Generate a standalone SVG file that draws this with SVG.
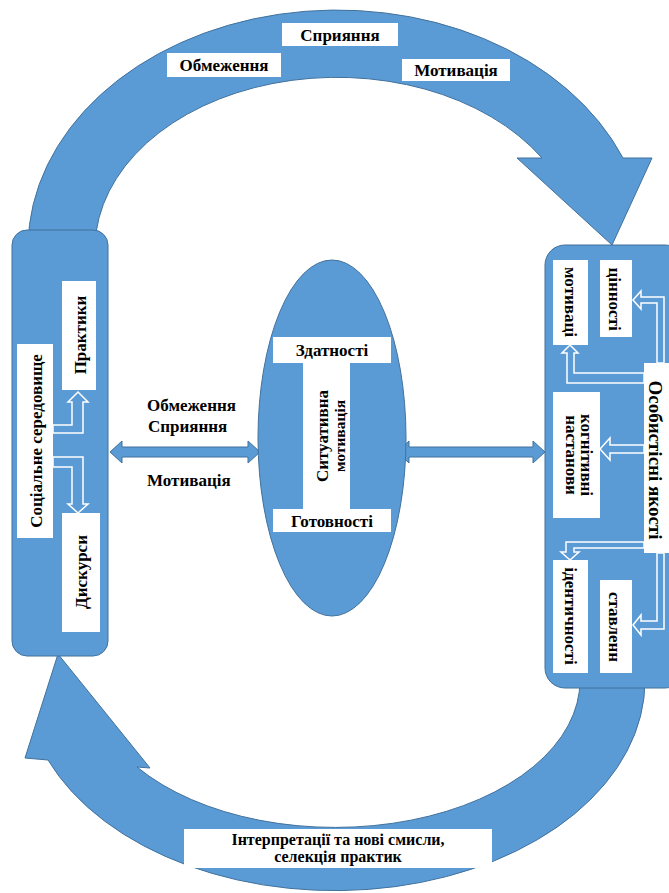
<svg xmlns="http://www.w3.org/2000/svg" width="669" height="893" viewBox="0 0 669 893">
<style>
.sh{fill:#5B9BD5;stroke:#41719C;stroke-width:1}
.wb{fill:#FFFFFF;stroke:none}
.ha{fill:#5B9BD5;stroke:#FFFFFF;stroke-width:1.5;stroke-linejoin:miter}
text{font-family:"Liberation Serif","Times New Roman",serif;font-weight:bold;font-size:17px;fill:#000}
.m{text-anchor:middle}
</style>
<rect width="669" height="893" fill="#FFFFFF"/>
<g id="connectors">
<path id="top-arc" class="sh" d="M28,245 A309,238 0 0 1 623,158 L652,158 L612,245 L517,158 L542,158 A242,172 0 0 0 95,245 Z"/>
<path id="bottom-arc" class="sh" d="M645,680 A310,210 0 0 1 48,760 L25,758 L58,654 L150,768 L137,767 A245,147 0 0 0 580,680 Z"/>
<polygon id="arrow-left" class="sh" points="110,452 122,441 122,447 248,447 248,441 260,452 248,463 248,457 122,457 122,463"/>
<polygon id="arrow-right" class="sh" points="397,452 409,441 409,447 533,447 533,441 545,452 533,463 533,457 409,457 409,463"/>
</g>
<g id="top-labels">
<rect class="wb" x="282" y="23" width="116" height="23"/>
<text class="m" x="340" y="41">Сприяння</text>
<rect class="wb" x="167" y="53" width="114" height="24"/>
<text class="m" x="224" y="71">Обмеження</text>
<rect class="wb" x="402" y="59" width="108" height="22"/>
<text class="m" x="456" y="76">Мотивація</text>
</g>
<g id="bottom-label">
<rect class="wb" x="184" y="829" width="308" height="39"/>
<text class="m" style="font-size:16px" x="338" y="845">Інтерпретації та нові смисли,</text>
<text class="m" style="font-size:16px" x="338" y="862">селекція практик</text>
</g>
<g id="middle-labels">
<text x="147" y="411">Обмеження</text>
<text x="148" y="432">Сприяння</text>
<text x="147" y="486">Мотивація</text>
</g>
<g id="social-environment">
<rect class="sh" x="12" y="230" width="96" height="426" rx="15"/>
<rect class="wb" x="17" y="344" width="36" height="194"/>
<text class="m" transform="translate(42,441) rotate(-90)">Соціальне середовище</text>
<rect class="wb" x="62" y="281" width="34" height="109"/>
<text class="m" transform="translate(86,335) rotate(-90)">Практики</text>
<rect class="wb" x="62" y="513" width="38" height="119"/>
<text class="m" transform="translate(87,572) rotate(-90)">Дискурси</text>
<polygon class="ha" points="53,425 72,425 72,402 68,402 78,392 88,402 83,402 83,433 53,433"/>
<polygon class="ha" points="53,457 83,457 83,504 88,504 78,513 68,504 72,504 72,467 53,467"/>
</g>
<g id="situational-motivation">
<ellipse class="sh" cx="332" cy="438" rx="74" ry="178"/>
<rect class="wb" x="273" y="337" width="118" height="26"/>
<text class="m" x="332" y="356">Здатності</text>
<rect class="wb" x="303" y="363" width="47" height="146"/>
<rect class="wb" x="273" y="509" width="118" height="23"/>
<text class="m" x="332" y="527">Готовності</text>
<text class="m" style="font-size:17px" transform="translate(328,436) rotate(-90)">Ситуативна</text>
<text class="m" style="font-size:15.5px" transform="translate(345,436) rotate(-90)">мотивація</text>
</g>
<g id="personal-qualities">
<rect class="sh" x="545" y="245" width="140" height="443" rx="20"/>
<rect class="wb" x="553" y="260" width="35" height="85"/>
<text class="m" transform="translate(565,302) rotate(90)">мотиваці</text>
<rect class="wb" x="600" y="260" width="32" height="77"/>
<text class="m" transform="translate(609,299) rotate(90)">цінності</text>
<rect class="wb" x="644" y="363" width="30" height="190"/>
<text class="m" style="font-size:19px" transform="translate(649,460) rotate(90)">Особистісні якості</text>
<rect class="wb" x="553" y="392" width="47" height="126"/>
<text class="m" transform="translate(581,455) rotate(90)">когнітивні</text>
<text class="m" transform="translate(566,455) rotate(90)">настанови</text>
<rect class="wb" x="553" y="560" width="35" height="113"/>
<text class="m" transform="translate(565,616) rotate(90)">ідентичності</text>
<rect class="wb" x="600" y="580" width="32" height="93"/>
<text class="m" transform="translate(609,627) rotate(90)">ставленн</text>
<polygon class="ha" points="657,363 657,303 641,303 641,309 633,300 641,291 641,297 664,297 664,363"/>
<polygon class="ha" points="644,373 574,373 574,353 578,353 570,345 562,353 567,353 567,383 644,383"/>
<polygon class="ha" points="644,445 610,445 610,438 600,449 610,460 610,453 644,453"/>
<polygon class="ha" points="644,542 566,542 566,552 561,552 570,560 579,552 574,552 574,548 644,548"/>
<polygon class="ha" points="657,553 657,621 641,621 641,615 633,625 641,635 641,629 664,629 664,553"/>
</g>
</svg>
